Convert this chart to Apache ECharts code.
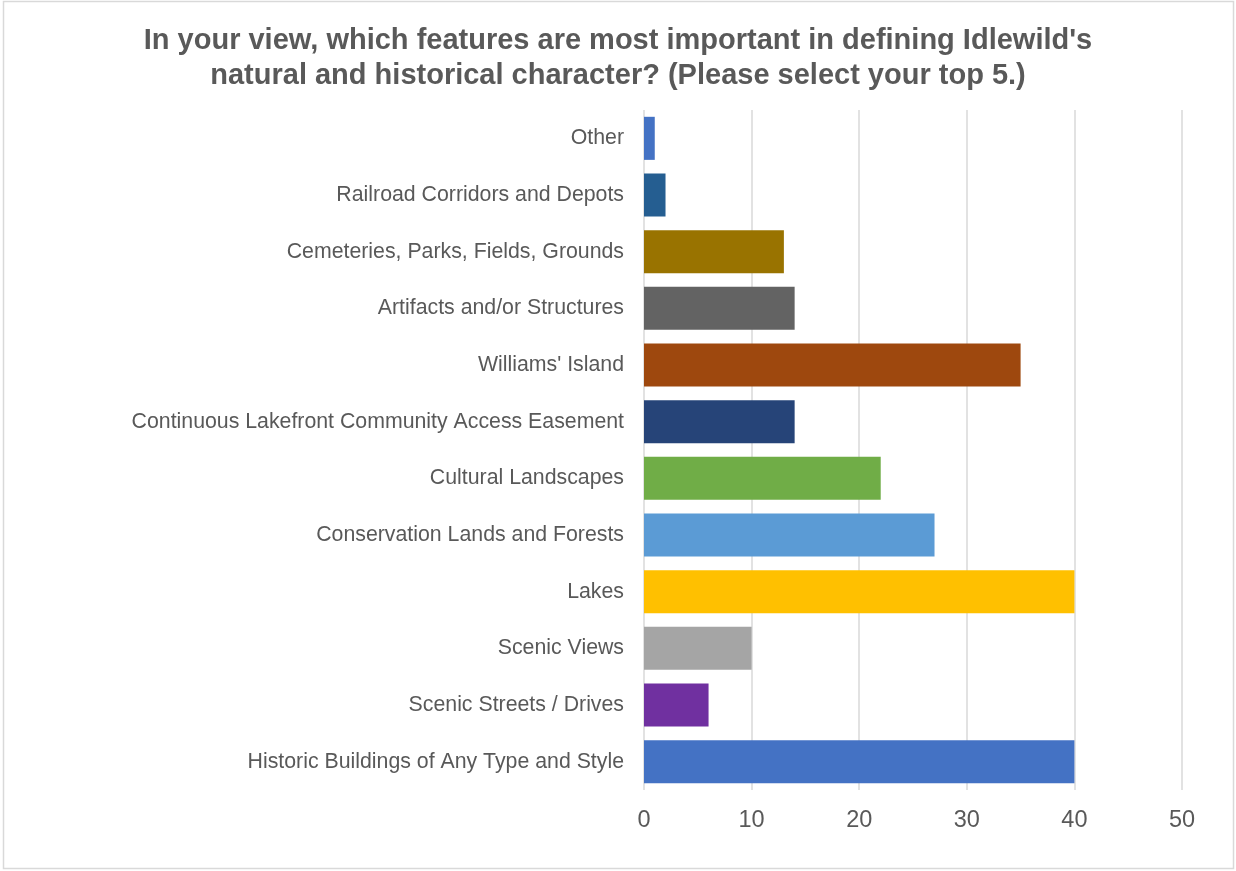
<!DOCTYPE html>
<html>
<head>
<meta charset="utf-8">
<script src="https://cdn.jsdelivr.net/npm/echarts@6/dist/echarts.min.js"></script>
<style>
html,body{margin:0;padding:0;background:#fff;}
#chart{width:1236px;height:871px;}
</style>
</head>
<body>
<div id="chart"></div>
<script>
// Categories listed bottom-to-top (as drawn by a category y-axis)
const categories = [
  "Historic Buildings of Any Type and Style",
  "Scenic Streets / Drives",
  "Scenic Views",
  "Lakes",
  "Conservation Lands and Forests",
  "Cultural Landscapes",
  "Continuous Lakefront Community Access Easement",
  "Williams' Island",
  "Artifacts and/or Structures",
  "Cemeteries, Parks, Fields, Grounds",
  "Railroad Corridors and Depots",
  "Other"
];
const values = [40, 6, 10, 40, 27, 22, 14, 35, 14, 13, 2, 1];
const barColors = [
  "#4472C4", "#7030A0", "#A5A5A5", "#FFC000", "#5B9BD5", "#70AD47",
  "#264478", "#9E480E", "#636363", "#997300", "#255E91", "#4472C4"
];
const xTicks = [0, 10, 20, 30, 40, 50];
const titleText = "In your view, which features are most important in defining Idlewild's\nnatural and historical character? (Please select your top 5.)";

const chart = echarts.init(document.getElementById('chart'), null, {renderer: 'canvas'});
chart.setOption({
  backgroundColor: '#ffffff',
  animation: false,
  graphic: [{
    type: 'rect',
    shape: {x: 3.5, y: 1.5, width: 1230, height: 867},
    style: {fill: 'none', stroke: '#d9d9d9', lineWidth: 1.5},
    silent: true
  }],
  title: {
    text: titleText,
    left: 'center',
    top: 19,
    textStyle: {
      fontFamily: 'Liberation Sans, Arial, sans-serif',
      fontSize: 29,
      fontWeight: 'bold',
      color: '#595959',
      lineHeight: 34.5
    }
  },
  grid: {left: 644, right: 54, top: 110, bottom: 81, containLabel: false},
  xAxis: {
    type: 'value',
    min: xTicks[0],
    max: xTicks[xTicks.length - 1],
    interval: 10,
    axisLine: {show: false},
    axisTick: {show: false},
    splitLine: {show: true, lineStyle: {color: '#d9d9d9', width: 1.5}},
    axisLabel: {
      fontFamily: 'Liberation Sans, Arial, sans-serif',
      fontSize: 23.5,
      color: '#595959',
      margin: 19
    }
  },
  yAxis: {
    type: 'category',
    data: categories,
    axisLine: {show: false},
    axisTick: {show: false},
    splitLine: {show: false},
    axisLabel: {
      fontFamily: 'Liberation Sans, Arial, sans-serif',
      fontSize: 21.3,
      color: '#595959',
      margin: 20
    }
  },
  series: [{
    type: 'bar',
    data: values.map((v, i) => ({value: v, itemStyle: {color: barColors[i]}})),
    barCategoryGap: '24%'
  }]
});
</script>
</body>
</html>
